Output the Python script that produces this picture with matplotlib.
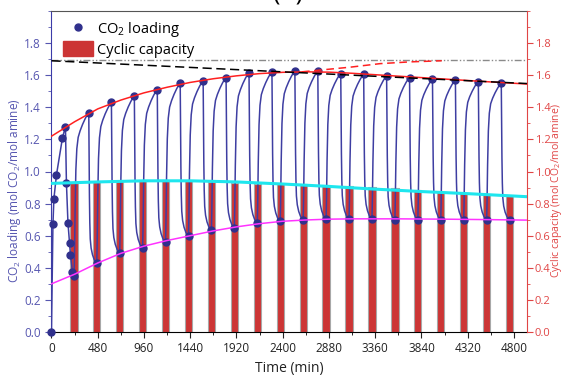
import numpy as np
import matplotlib
matplotlib.use('Agg')
import matplotlib.pyplot as plt
from matplotlib.patches import Patch
from matplotlib.lines import Line2D
from matplotlib.ticker import MultipleLocator, FormatStrFormatter

plt.rcParams['font.family'] = ['Open Sans', 'DejaVu Sans']
plt.rcParams['mathtext.fontset'] = 'custom'
plt.rcParams['mathtext.rm'] = 'Open Sans'

# first absorption / desorption cycle, every measured point
t_first = [0, 15, 25, 52, 114, 145, 155, 171, 187, 197, 218, 235]
load_first = [0.0, 0.67, 0.83, 0.98, 1.21, 1.28, 0.93, 0.68, 0.555, 0.48, 0.375, 0.35]

# lean loading at the end of each desorption (bars sit here too)
t_lean = [235, 470, 708, 946, 1184, 1422, 1660, 1898, 2136, 2374,
          2612, 2850, 3088, 3326, 3564, 3802, 4040, 4278, 4516, 4754]
lean = [0.35, 0.43, 0.495, 0.525, 0.56, 0.60, 0.635, 0.65, 0.68, 0.69,
        0.70, 0.705, 0.705, 0.705, 0.70, 0.70, 0.70, 0.70, 0.70, 0.70]
# rich loading reached after each lean point
rich = [1.365, 1.43, 1.47, 1.51, 1.55, 1.565, 1.585, 1.615, 1.62, 1.625,
        1.625, 1.61, 1.605, 1.595, 1.585, 1.575, 1.57, 1.56, 1.55]
cyc_cap = [0.93, 0.935, 0.94, 0.94, 0.945, 0.94, 0.935, 0.93, 0.925, 0.925,
           0.92, 0.915, 0.91, 0.905, 0.895, 0.885, 0.875, 0.865, 0.855, 0.845]

# shape of one cycle (time offset, fraction of swing)
rise_dt = [0, 4, 10, 18, 28, 42, 62, 88, 115, 138, 152]
rise_frac = [0, 0.12, 0.4, 0.65, 0.78, 0.85, 0.89, 0.93, 0.965, 0.99, 1.0]
desc_dt = [0, 3, 7, 11, 16, 25, 40, 60, 86]
desc_frac = [1.0, 0.75, 0.45, 0.27, 0.16, 0.1, 0.055, 0.02, 0.0]

# trend lines
t_cyan = [0, 480, 960, 1440, 1920, 2400, 2880, 3360, 3840, 4320, 4935]
y_cyan = [0.926, 0.935, 0.942, 0.942, 0.935, 0.922, 0.907, 0.89, 0.875, 0.862, 0.843]
t_mag = [0, 240, 480, 720, 960, 1200, 1440, 1680, 1920, 2160, 2400, 2640,
         2880, 3120, 3600, 4080, 4560, 4935]
y_mag = [0.30, 0.36, 0.43, 0.49, 0.535, 0.57, 0.60, 0.63, 0.655, 0.675, 0.69,
         0.698, 0.703, 0.705, 0.705, 0.703, 0.70, 0.697]
t_red = [0, 240, 480, 720, 960, 1200, 1440, 1680, 1920, 2160, 2400, 2640,
         2880, 3120, 3360, 3600, 3840, 4080, 4320, 4560, 4935]
y_red = [1.22, 1.31, 1.39, 1.445, 1.49, 1.525, 1.555, 1.578, 1.596, 1.61, 1.618,
         1.621, 1.619, 1.612, 1.603, 1.594, 1.585, 1.576, 1.567, 1.558, 1.545]
t_red_dash = [2600, 2790, 3100, 3410, 3720, 4050]
y_red_dash = [1.621, 1.632, 1.65, 1.672, 1.683, 1.69]
t_black = [0, 4935]
y_black = [1.69, 1.548]
y_ref = 1.695

blue = '#3e3ea2'
left_col = '#5656b0'
right_col = '#e04545'

# build the continuous loading trace
t_line = list(t_first)
y_line = list(load_first)
t_pk = []
for k in range(len(rich)):
    t0 = t_lean[k]
    tp = t0 + rise_dt[-1]
    t1 = t_lean[k + 1]
    lo, hi, lo2 = lean[k], rich[k], lean[k + 1]
    for dt, f in zip(rise_dt[1:], rise_frac[1:]):
        t_line.append(t0 + dt); y_line.append(lo + f * (hi - lo))
    sc = (t1 - tp) / desc_dt[-1]
    for dt, f in zip(desc_dt[1:], desc_frac[1:]):
        t_line.append(tp + dt * sc); y_line.append(lo2 + f * (hi - lo2))
    t_pk.append(tp)

t_mk = t_first + t_pk + t_lean[1:]
y_mk = load_first + rich + lean[1:]

fig = plt.figure(figsize=(5.64, 3.76), dpi=100)
ax = fig.add_axes([51/564, 1 - 332/376, 476/564, 321/376])

ax.bar(t_lean, cyc_cap, width=76, color='#cc3535', edgecolor='#a8a8a8', lw=0.8, zorder=1)
ax.plot(t_line, y_line, color=blue, lw=1.1, zorder=3)
ax.plot(t_mk, y_mk, 'o', color='#30308c', ms=5, zorder=4, clip_on=False)
ax.plot(t_cyan, y_cyan, color='#1ee6ee', lw=2.2, zorder=5)
ax.plot(t_mag, y_mag, color='#ff33ff', lw=1.1, zorder=5)
ax.plot(t_red, y_red, color='#ff2020', lw=1.1, zorder=5)
ax.plot(t_red_dash, y_red_dash, color='#ff2020', lw=1.1, ls=(0, (5, 3)), zorder=5)
ax.plot(t_black, y_black, color='black', lw=1.1, ls=(0, (6, 3)), zorder=6)
ax.axhline(y_ref, color='#8a8a8a', lw=1.0, ls=(0, (5, 1.5, 1, 1.5, 1, 1.5)), zorder=2)

ax.set_xlim(-5, 4935)
ax.set_ylim(0, 2.0)
ax.set_xticks(np.arange(0, 4801, 480))
ax.xaxis.set_minor_locator(MultipleLocator(240))
ax.yaxis.set_minor_locator(MultipleLocator(0.1))
ax.yaxis.set_major_formatter(FormatStrFormatter('%.1f'))
ax.set_yticks(np.arange(0, 1.81, 0.2))
ax.tick_params(axis='both', direction='out', labelsize=8.5)
ax.tick_params(axis='y', colors=left_col, length=4)
ax.tick_params(axis='y', which='minor', colors=left_col, length=2)
ax.tick_params(axis='x', colors='#222222', length=4)
ax.tick_params(axis='x', which='minor', length=2)
ax.spines['left'].set_color('#3c3ca8')
ax.spines['top'].set_color('#555555')
ax.spines['right'].set_visible(False)
ax.set_xlabel('Time (min)', fontsize=10, color='#222222', labelpad=4)
ax.set_ylabel('CO$_2$ loading (mol CO$_2$/mol amine)', fontsize=8.5, color=left_col)
ax.yaxis.set_label_coords(-0.058, 0.44)

ax2 = ax.twinx()
ax2.set_ylim(0, 2.0)
ax2.set_yticks(np.arange(0, 1.81, 0.2))
ax2.yaxis.set_minor_locator(MultipleLocator(0.1))
ax2.yaxis.set_major_formatter(FormatStrFormatter('%.1f'))
ax2.tick_params(axis='y', colors=right_col, labelsize=8, length=4, pad=1.5)
ax2.tick_params(axis='y', which='minor', colors=right_col, length=2)
ax2.spines['right'].set_color(right_col)
for s in ['left', 'top', 'bottom']:
    ax2.spines[s].set_visible(False)
ax2.set_ylabel('Cyclic capacity (mol CO$_2$/mol amine)', fontsize=7.5, color=right_col)
ax2.yaxis.set_label_coords(1.046, 0.44)

handles = [Line2D([], [], ls='none', marker='o', color='#30308c', ms=5),
           Patch(facecolor='#cc3535', edgecolor='#cc3535')]
ax.legend(handles, ['CO$_2$ loading', 'Cyclic capacity'], loc='upper left',
          frameon=False, fontsize=10.5, handlelength=2.05, handleheight=1.2,
          handletextpad=0.3, borderaxespad=0, labelspacing=0.15,
          bbox_to_anchor=(0.013, 0.99))

fig.text(0.51, 1.0, '(b)', fontsize=18, ha='center', va='baseline')

fig.savefig('out.png', dpi=100)
